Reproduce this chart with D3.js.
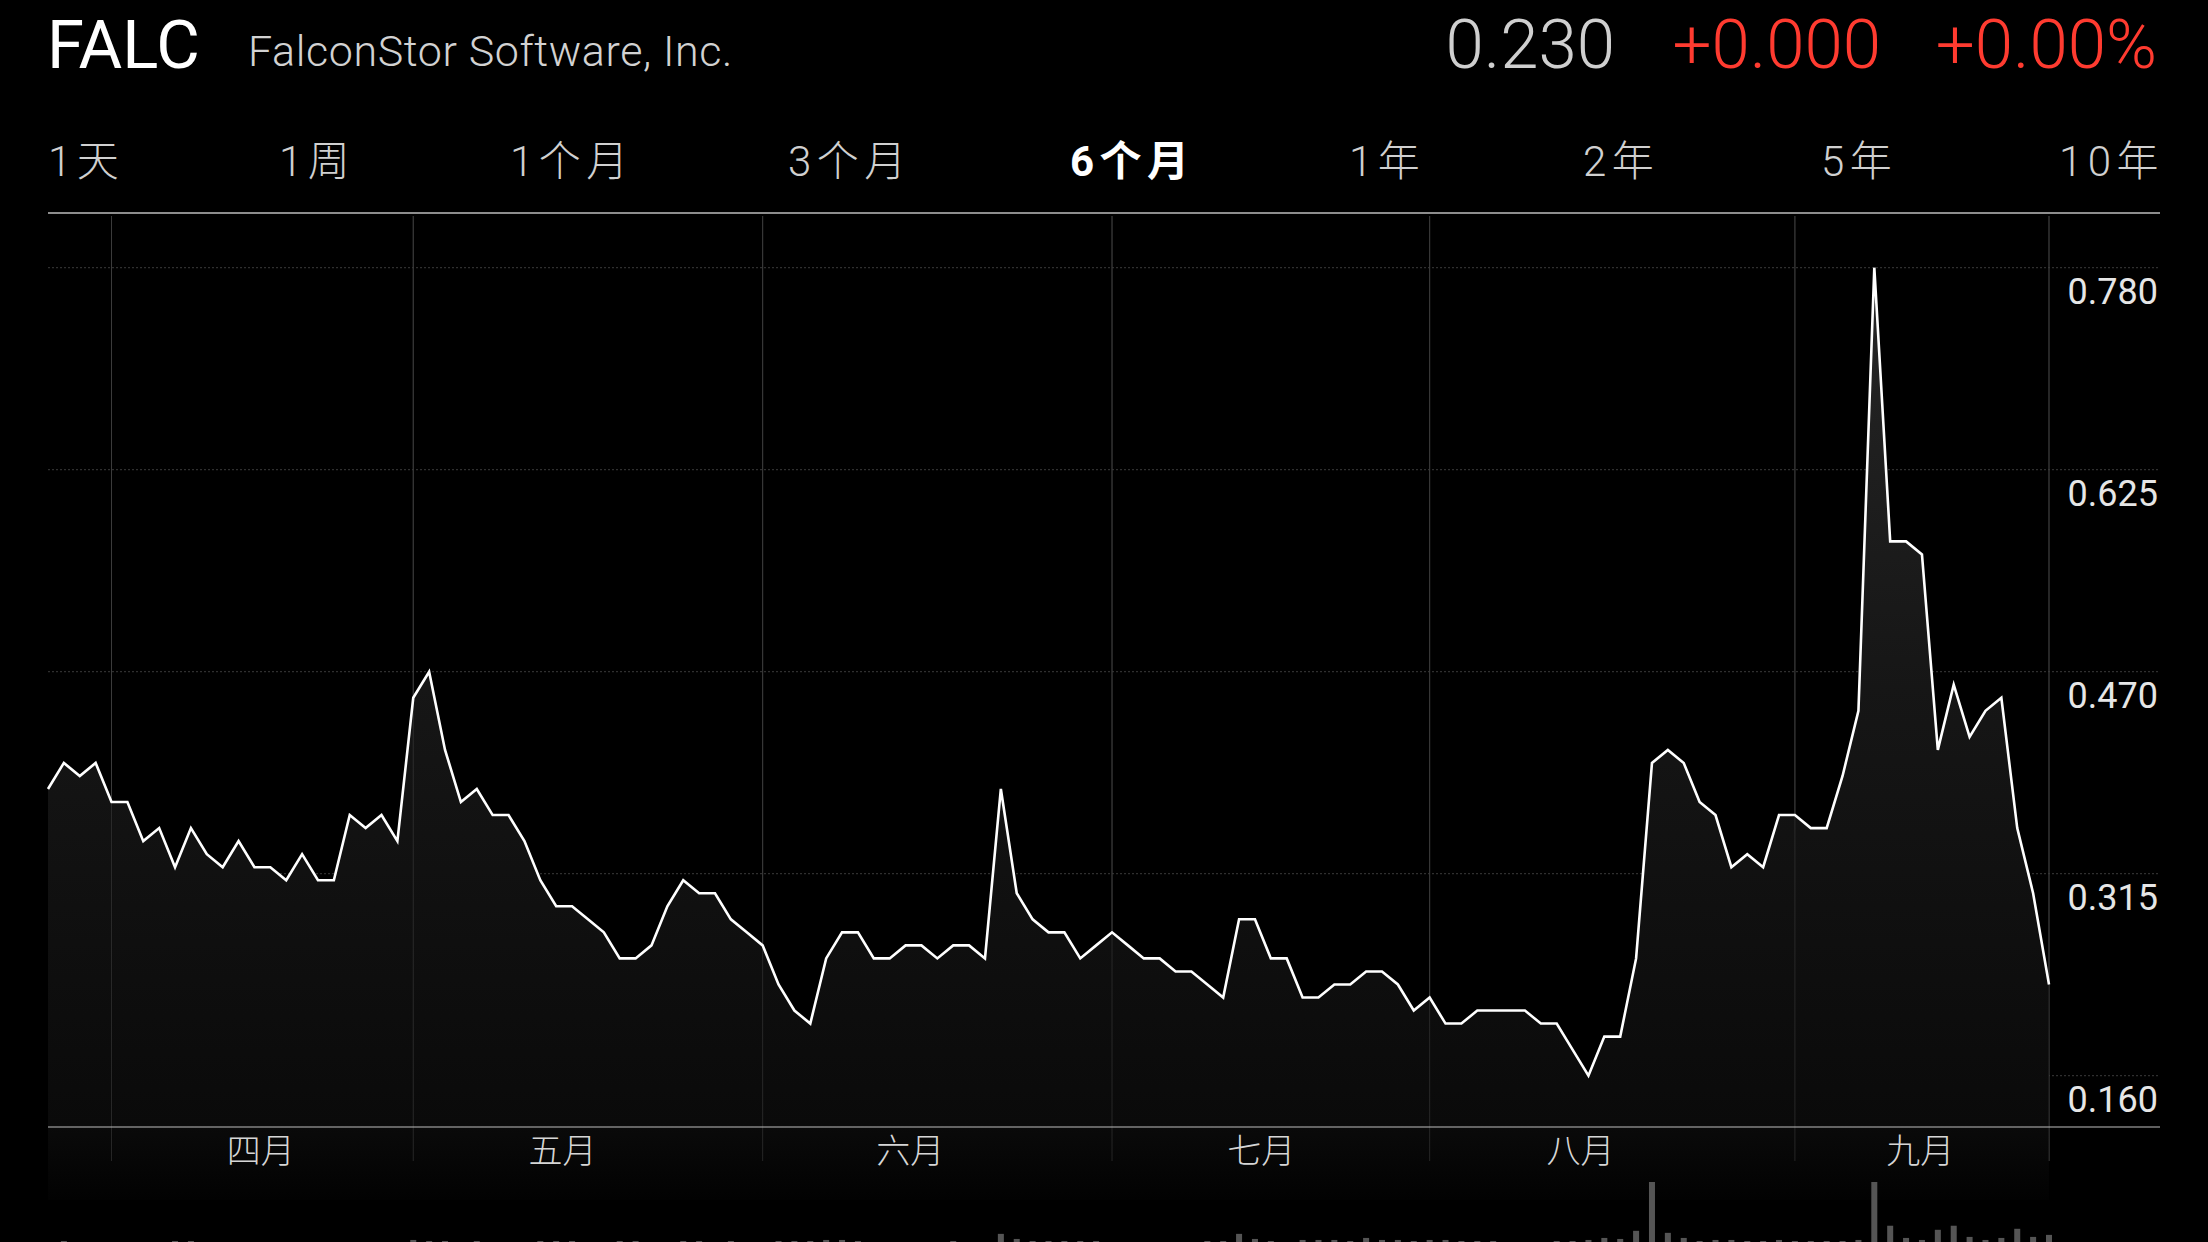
<html>

<head>
    <meta charset="utf-8">
    <title>FALC 6个月</title>
    <style>
        body { margin: 0; background: #000; overflow: hidden; }
        text { font-family: Roboto, "Noto Sans CJK SC", sans-serif; }
    </style>
</head>

<body>
    <script src="https://cdn.jsdelivr.net/npm/d3@7/dist/d3.min.js"></script>
    <script>
        var symbol = "FALC";
        var companyName = "FalconStor Software, Inc.";
        var lastPrice = "0.230";
        var priceChange = "+0.000";
        var pctChange = "+0.00%";
        var ranges = ["1天", "1周", "1个月", "3个月", "6个月", "1年", "2年", "5年", "10年"];
        var activeRange = "6个月";

        // daily close, 127 trading days
        var prices = [
            0.38, 0.40, 0.39, 0.40, 0.37, 0.37, 0.34, 0.35, 0.32, 0.35, 0.33, 0.32, 0.34, 0.32, 0.32, 0.31,
            0.33, 0.31, 0.31, 0.36, 0.35, 0.36, 0.34, 0.45, 0.47, 0.41, 0.37, 0.38, 0.36, 0.36, 0.34, 0.31,
            0.29, 0.29, 0.28, 0.27, 0.25, 0.25, 0.26, 0.29, 0.31, 0.30, 0.30, 0.28,
            0.27, 0.26, 0.23, 0.21, 0.20, 0.25, 0.27, 0.27, 0.25, 0.25, 0.26, 0.26, 0.25, 0.26, 0.26, 0.25,
            0.38, 0.30, 0.28, 0.27, 0.27, 0.25, 0.26, 0.27, 0.26, 0.25, 0.25, 0.24, 0.24, 0.23, 0.22, 0.28,
            0.28, 0.25, 0.25, 0.22, 0.22, 0.23, 0.23, 0.24, 0.24, 0.23, 0.21, 0.22, 0.20, 0.20,
            0.21, 0.21, 0.21, 0.21, 0.20, 0.20, 0.18, 0.16, 0.19, 0.19, 0.25, 0.40, 0.41, 0.40, 0.37, 0.36,
            0.32, 0.33, 0.32, 0.36, 0.36, 0.35, 0.35, 0.39, 0.44, 0.78, 0.57, 0.57, 0.56, 0.41, 0.46, 0.42,
            0.44, 0.45, 0.35, 0.30, 0.23
        ];
        // volume, thousand shares
        var volumes = [
            0, 30, 0, 0, 0, 0, 0, 0, 30, 30, 0, 0, 0, 0, 0, 0,
            0, 0, 0, 0, 0, 0, 0, 60, 30, 30, 0, 30, 0, 0, 0, 30,
            30, 30, 0, 0, 30, 30, 0, 0, 30, 30, 0, 30,
            0, 0, 30, 30, 30, 60, 60, 30, 0, 0, 0, 0, 0, 30, 0, 0,
            240, 90, 30, 30, 30, 30, 30, 0, 0, 0, 0, 0, 0, 30, 30, 240,
            90, 30, 0, 60, 60, 60, 30, 120, 60, 60, 30, 60, 60, 30,
            30, 30, 0, 0, 0, 30, 30, 60, 120, 90, 330, 1770, 270, 120, 30, 60,
            60, 30, 30, 60, 30, 30, 30, 30, 60, 1770, 480, 120, 60, 360, 480, 150,
            60, 120, 390, 150, 210
        ];
        var yTicks = [0.160, 0.315, 0.470, 0.625, 0.780];
        var monthLabels = ["四月", "五月", "六月", "七月", "八月", "九月"];
        var monthLabelDay = [13.4, 32.4, 54.3, 76.4, 96.5, 117.9];
        var monthLineDay = [4, 23, 45, 67, 87, 110, 126];

        var width = 2208;
        var height = 1242;
        var left = 48, right = 2160;
        var tabX = [48, 279, 510, 788, 1070, 1349, 1583, 1821, 2059];

        var svg = d3.select("body")
            .append("svg")
            .attr("width", width)
            .attr("height", height)
            .style("background", "#000");

        var x = d3.scaleLinear()
            .domain([0, prices.length - 1])
            .range([left, 2049]);
        var y = d3.scaleLinear()
            .domain([0.160, 0.780])
            .range([1075.7, 267.7]);
        var v = d3.scaleLinear()
            .domain([0, d3.max(volumes)])
            .range([0, 60]);

        // header
        svg.append("text")
            .attr("x", 47).attr("y", 68)
            .attr("font-size", 67)
            .attr("fill", "#fff")
            .text(symbol);
        svg.append("text")
            .attr("x", 248).attr("y", 66)
            .attr("font-size", 43)
            .attr("letter-spacing", 0.6)
            .attr("font-weight", 300)
            .attr("fill", "#d2d2d2")
            .text(companyName);
        var head = [[lastPrice, 1615, "#cfcfcf"], [priceChange, 1881, "#ff3b30"], [pctChange, 2157, "#ff3b30"]];
        svg.selectAll(".head")
            .data(head)
            .enter()
            .append("text")
            .attr("class", "head")
            .attr("x", function (d) { return d[1]; })
            .attr("y", 68)
            .attr("text-anchor", "end")
            .attr("font-size", 69)
            .attr("font-weight", 300)
            .attr("fill", function (d) { return d[2]; })
            .text(function (d) { return d[0]; });

        // range tabs
        svg.selectAll(".tab")
            .data(ranges)
            .enter()
            .append("text")
            .attr("class", "tab")
            .attr("x", function (d, i) { return tabX[i]; })
            .attr("y", 176)
            .attr("font-size", 42)
            .attr("letter-spacing", 5.5)
            .attr("font-weight", function (d) { return d == activeRange ? 700 : 300; })
            .attr("fill", function (d) { return d == activeRange ? "#fff" : "#d0d0d0"; })
            .text(function (d) { return d; });

        svg.append("line")
            .attr("x1", left).attr("x2", right)
            .attr("y1", 213).attr("y2", 213)
            .attr("stroke", "#bdbdbd").attr("stroke-width", 1.5);

        // grid
        svg.selectAll(".hgrid")
            .data(yTicks)
            .enter()
            .append("line")
            .attr("x1", left).attr("x2", right)
            .attr("y1", function (d) { return y(d); })
            .attr("y2", function (d) { return y(d); })
            .attr("stroke", "#3a3a3a")
            .attr("stroke-dasharray", "2,2");
        svg.selectAll(".vgrid")
            .data(monthLineDay)
            .enter()
            .append("line")
            .attr("x1", function (d) { return x(d); })
            .attr("x2", function (d) { return x(d); })
            .attr("y1", 216).attr("y2", 1161)
            .attr("stroke", "#3c3c3c");

        // area + line
        var grad = svg.append("defs").append("linearGradient")
            .attr("id", "fillGrad")
            .attr("gradientUnits", "userSpaceOnUse")
            .attr("x1", 0).attr("y1", 267).attr("x2", 0).attr("y2", 1200);
        grad.append("stop").attr("offset", 0).attr("stop-color", "#262626");
        grad.append("stop").attr("offset", 0.45).attr("stop-color", "#161616");
        grad.append("stop").attr("offset", 0.92).attr("stop-color", "#0a0a0a");
        grad.append("stop").attr("offset", 1).attr("stop-color", "#020202");

        var area = d3.area()
            .x(function (d, i) { return x(i); })
            .y0(1200)
            .y1(function (d) { return y(d); });
        var line = d3.line()
            .x(function (d, i) { return x(i); })
            .y(function (d) { return y(d); });

        svg.append("path")
            .datum(prices)
            .attr("fill", "url(#fillGrad)")
            .attr("d", area);

        svg.selectAll(".vgrid2")
            .data(monthLineDay)
            .enter()
            .append("line")
            .attr("x1", function (d) { return x(d); })
            .attr("x2", function (d) { return x(d); })
            .attr("y1", 216).attr("y2", 1161)
            .attr("stroke", "#3c3c3c")
            .attr("stroke-opacity", 0.6);

        svg.append("path")
            .datum(prices)
            .attr("fill", "none")
            .attr("stroke", "#fff")
            .attr("stroke-width", 2.6)
            .attr("d", line);

        svg.append("line")
            .attr("x1", left).attr("x2", right)
            .attr("y1", 1127).attr("y2", 1127)
            .attr("stroke", "#bdbdbd").attr("stroke-width", 1.2);

        // y labels
        svg.selectAll(".ylab")
            .data(yTicks)
            .enter()
            .append("text")
            .attr("x", 2158)
            .attr("y", function (d) { return y(d) + 36; })
            .attr("text-anchor", "end")
            .attr("font-size", 36)
            .attr("fill", "#e6e6e6")
            .text(function (d) { return d3.format(".3f")(d); });

        // month labels
        svg.selectAll(".mlab")
            .data(monthLabels)
            .enter()
            .append("text")
            .attr("x", function (d, i) { return x(monthLabelDay[i]); })
            .attr("y", 1163)
            .attr("text-anchor", "middle")
            .attr("font-size", 34)
            .attr("font-weight", 300)
            .attr("fill", "#d6d6d6")
            .text(function (d) { return d; });

        // volume
        svg.selectAll(".vol")
            .data(volumes)
            .enter()
            .append("rect")
            .attr("x", function (d, i) { return x(i) - 3; })
            .attr("width", 6)
            .attr("y", function (d) { return 1242 - v(d); })
            .attr("height", function (d) { return v(d); })
            .attr("fill", "#555");
    </script>
</body>

</html>
